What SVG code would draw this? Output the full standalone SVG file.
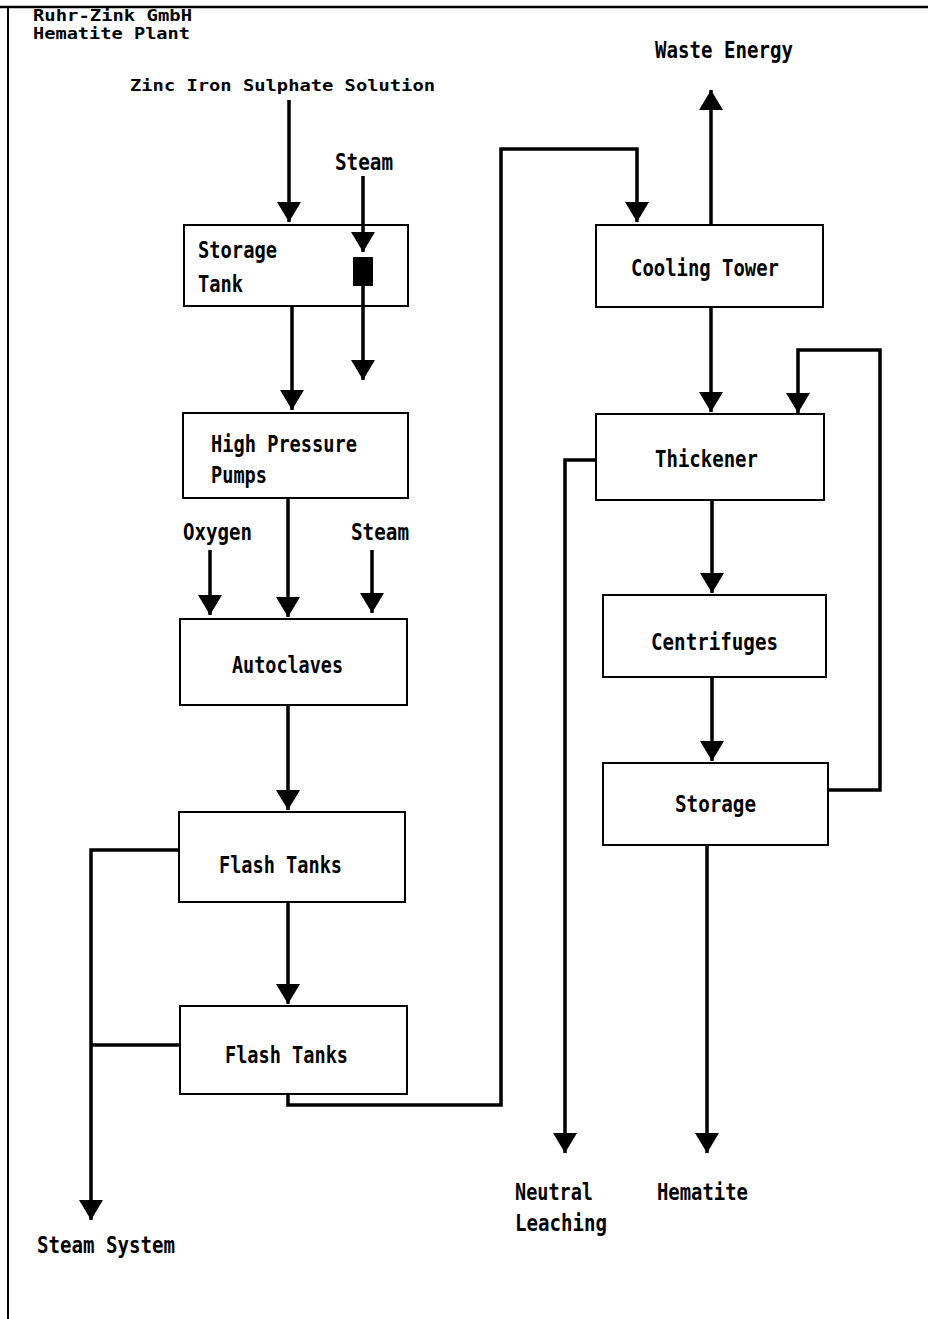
<svg xmlns="http://www.w3.org/2000/svg" width="928" height="1319" viewBox="0 0 928 1319">
<style>
.box{fill:#fff;stroke:#000;stroke-width:2}
.ln{fill:none;stroke:#000;stroke-width:3.5}
.t{font-family:"DejaVu Sans Mono","Liberation Mono",monospace;font-size:23px;font-weight:bold;fill:#000}
.h{font-family:"DejaVu Sans Mono","Liberation Mono",monospace;font-size:15px;font-weight:bold;fill:#000}
</style>
<defs>
<marker id="ah" markerUnits="userSpaceOnUse" markerWidth="22" markerHeight="24" refX="20" refY="12" orient="auto" viewBox="0 0 22 24">
<path d="M0,0 L20,12 L0,24 z" fill="#000"/>
</marker>
</defs>
<rect width="928" height="1319" fill="#fff"/>
<g id="border">
<line x1="0" y1="7" x2="928" y2="7" stroke="#000" stroke-width="2.5"/>
<line x1="8" y1="7" x2="8" y2="1319" stroke="#000" stroke-width="2"/>
</g>
<g id="title">
<text class="h" x="33" y="21" textLength="159" lengthAdjust="spacingAndGlyphs">Ruhr-Zink GmbH</text>
<text class="h" x="33" y="39" textLength="157" lengthAdjust="spacingAndGlyphs">Hematite Plant</text>
</g>
<g id="inputs">
<text class="h" x="130" y="91" textLength="305" lengthAdjust="spacingAndGlyphs">Zinc Iron Sulphate Solution</text>
<text class="t" x="335" y="170" textLength="58" lengthAdjust="spacingAndGlyphs">Steam</text>
<text class="t" x="183" y="540" textLength="69" lengthAdjust="spacingAndGlyphs">Oxygen</text>
<text class="t" x="351" y="540" textLength="58" lengthAdjust="spacingAndGlyphs">Steam</text>
</g>
<g id="storage-tank">
<rect class="box" x="184" y="225" width="224" height="81"/>
<text class="t" x="198" y="258" textLength="79" lengthAdjust="spacingAndGlyphs">Storage</text>
<text class="t" x="198" y="292" textLength="45" lengthAdjust="spacingAndGlyphs">Tank</text>
</g>
<g id="hp-pumps">
<rect class="box" x="183" y="413" width="225" height="85"/>
<text class="t" x="211" y="452" textLength="146" lengthAdjust="spacingAndGlyphs">High Pressure</text>
<text class="t" x="211" y="483" textLength="56" lengthAdjust="spacingAndGlyphs">Pumps</text>
</g>
<g id="autoclaves">
<rect class="box" x="180" y="619" width="227" height="86"/>
<text class="t" x="232" y="673" textLength="111" lengthAdjust="spacingAndGlyphs">Autoclaves</text>
</g>
<g id="flash-tanks-1">
<rect class="box" x="179" y="812" width="226" height="90"/>
<text class="t" x="219" y="873" textLength="123" lengthAdjust="spacingAndGlyphs">Flash Tanks</text>
</g>
<g id="flash-tanks-2">
<rect class="box" x="180" y="1006" width="227" height="88"/>
<text class="t" x="225" y="1063" textLength="123" lengthAdjust="spacingAndGlyphs">Flash Tanks</text>
</g>
<g id="cooling-tower">
<rect class="box" x="596" y="225" width="227" height="82"/>
<text class="t" x="631" y="276" textLength="148" lengthAdjust="spacingAndGlyphs">Cooling Tower</text>
</g>
<g id="thickener">
<rect class="box" x="596" y="414" width="228" height="86"/>
<text class="t" x="655" y="467" textLength="103" lengthAdjust="spacingAndGlyphs">Thickener</text>
</g>
<g id="centrifuges">
<rect class="box" x="603" y="595" width="223" height="82"/>
<text class="t" x="651" y="650" textLength="127" lengthAdjust="spacingAndGlyphs">Centrifuges</text>
</g>
<g id="storage">
<rect class="box" x="603" y="763" width="225" height="82"/>
<text class="t" x="675" y="812" textLength="81" lengthAdjust="spacingAndGlyphs">Storage</text>
</g>
<g id="outputs">
<text class="t" x="655" y="58" textLength="138" lengthAdjust="spacingAndGlyphs">Waste Energy</text>
<text class="t" x="515" y="1200" textLength="78" lengthAdjust="spacingAndGlyphs">Neutral</text>
<text class="t" x="515" y="1231" textLength="92" lengthAdjust="spacingAndGlyphs">Leaching</text>
<text class="t" x="657" y="1200" textLength="91" lengthAdjust="spacingAndGlyphs">Hematite</text>
<text class="t" x="37" y="1253" textLength="138" lengthAdjust="spacingAndGlyphs">Steam System</text>
</g>
<g id="connectors">
<line class="ln" x1="289" y1="100" x2="289" y2="222" marker-end="url(#ah)"/>
<line class="ln" x1="363" y1="176" x2="363" y2="252" marker-end="url(#ah)"/>
<rect x="353" y="257" width="20" height="29" fill="#000"/>
<line class="ln" x1="363" y1="286" x2="363" y2="380" marker-end="url(#ah)"/>
<line class="ln" x1="292" y1="307" x2="292" y2="410" marker-end="url(#ah)"/>
<line class="ln" x1="288" y1="498" x2="288" y2="617" marker-end="url(#ah)"/>
<line class="ln" x1="210" y1="550" x2="210" y2="615" marker-end="url(#ah)"/>
<line class="ln" x1="372" y1="550" x2="372" y2="613" marker-end="url(#ah)"/>
<line class="ln" x1="288" y1="705" x2="288" y2="810" marker-end="url(#ah)"/>
<line class="ln" x1="288" y1="902" x2="288" y2="1004" marker-end="url(#ah)"/>
<polyline class="ln" points="179,850 91,850 91,1220" marker-end="url(#ah)"/>
<line class="ln" x1="91" y1="1045" x2="180" y2="1045"/>
<polyline class="ln" points="288,1094 288,1105 501,1105 501,149 637,149 637,222" marker-end="url(#ah)"/>
<line class="ln" x1="711" y1="225" x2="711" y2="90" marker-end="url(#ah)"/>
<line class="ln" x1="711" y1="307" x2="711" y2="412" marker-end="url(#ah)"/>
<polyline class="ln" points="596,460 565,460 565,1153" marker-end="url(#ah)"/>
<line class="ln" x1="712" y1="500" x2="712" y2="593" marker-end="url(#ah)"/>
<line class="ln" x1="712" y1="677" x2="712" y2="761" marker-end="url(#ah)"/>
<line class="ln" x1="707" y1="845" x2="707" y2="1153" marker-end="url(#ah)"/>
<polyline class="ln" points="828,790 880,790 880,350 798,350 798,413" marker-end="url(#ah)"/>
</g>
</svg>
